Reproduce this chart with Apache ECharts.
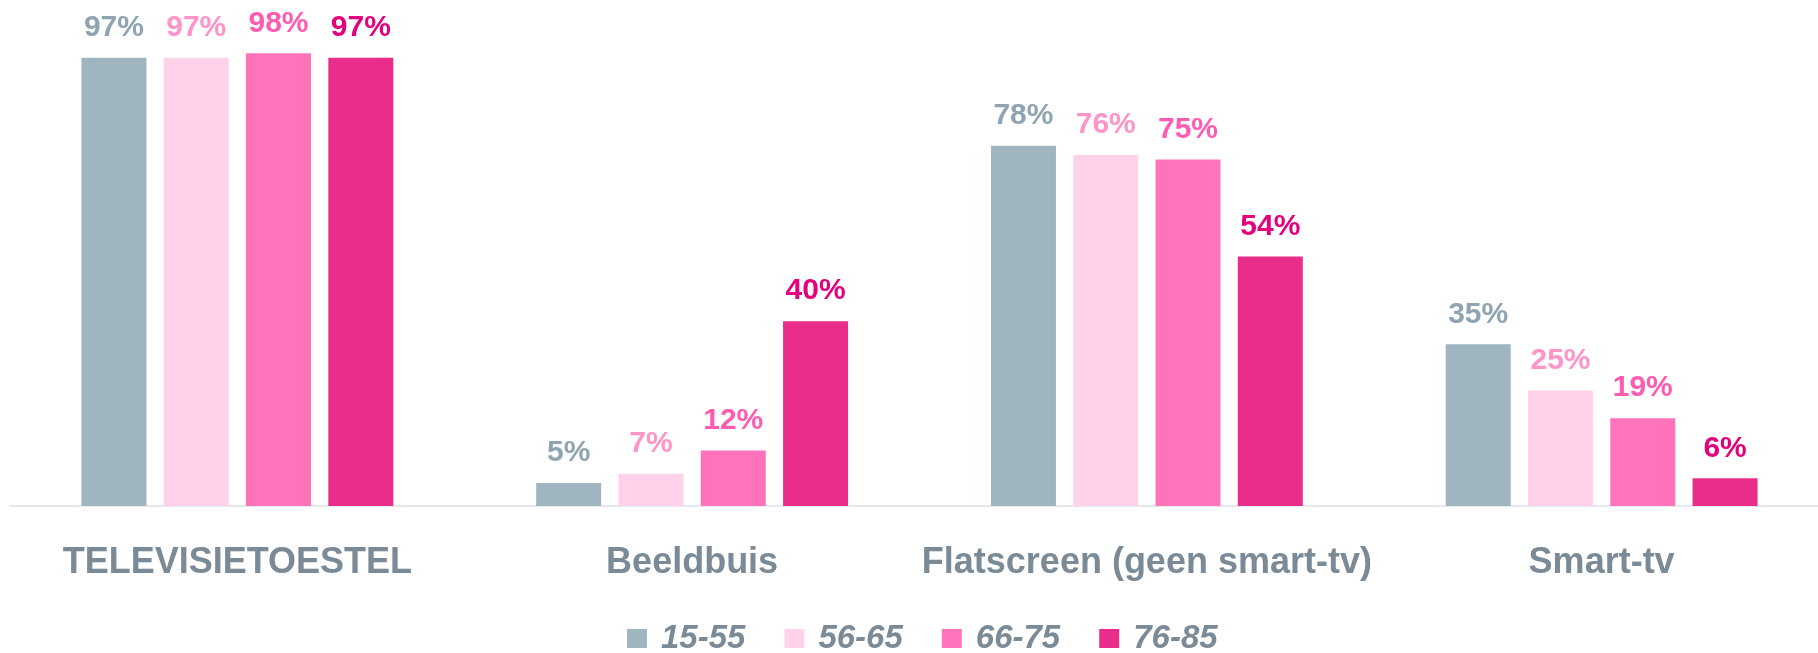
<!DOCTYPE html>
<html>
<head>
<meta charset="utf-8">
<script src="https://cdn.jsdelivr.net/npm/echarts@6/dist/echarts.min.js"></script>
<style>
  html, body { margin: 0; padding: 0; background: #fff; }
  #chart { width: 1818px; height: 653px; }
</style>
</head>
<body>
<div id="chart"></div>
<script>
const categories = ["TELEVISIETOESTEL", "Beeldbuis", "Flatscreen (geen smart-tv)", "Smart-tv"];
const groups = ["15-55", "56-65", "66-75", "76-85"];
const values1555 = [97, 5, 78, 35];
const values5665 = [97, 7, 76, 25];
const values6675 = [98, 12, 75, 19];
const values7685 = [97, 40, 54, 6];

const barColors = ["#9fb5c0", "#ffd2e9", "#ff73bb", "#ea2c8a"];
const labelColors = ["#8ea4b2", "#ff94c9", "#ff5cb1", "#e5007d"];
// no condensed font here, so sizes are a bit smaller to keep the widths
const font = "'Liberation Sans Narrow', 'Liberation Sans', Arial, sans-serif";

const seriesData = [values1555, values5665, values6675, values7685];

const chart = echarts.init(document.getElementById("chart"));

const option = {
  animation: false,
  color: barColors,
  legend: {
    left: 622,
    top: 617,
    itemWidth: 20,
    itemHeight: 19,
    itemGap: 39,
    icon: "rect",
    textStyle: {
      color: "#7b8a97",
      fontFamily: font,
      fontWeight: "bold",
      fontStyle: "italic",
      fontSize: 33,
      padding: [0, 0, 0, 9],
    },
    data: groups,
  },
  grid: {
    left: 10,
    width: 1819,
    top: 44,
    bottom: 147,
    outerBoundsMode: "none",
    containLabel: false,
  },
  xAxis: {
    type: "category",
    data: categories,
    axisTick: { show: false },
    axisLine: { lineStyle: { color: "#e5e8ec", width: 2 } },
    axisLabel: {
      margin: 39,
      interval: 0,
      color: "#7b8a97",
      fontFamily: font,
      fontWeight: "bold",
      fontSize: 36,
    },
  },
  yAxis: {
    type: "value",
    min: 0,
    max: 100,
    show: false,
    splitLine: { show: false },
  },
  series: seriesData.map((d, i) => ({
    name: groups[i],
    type: "bar",
    data: d,
    barWidth: 65,
    barGap: "26.6%",
    itemStyle: { color: barColors[i] },
    label: {
      show: true,
      position: "top",
      distance: 15,
      formatter: "{c}%",
      color: labelColors[i],
      fontFamily: font,
      fontWeight: "bold",
      fontSize: 30,
    },
  })),
};

chart.setOption(option);
</script>
</body>
</html>
